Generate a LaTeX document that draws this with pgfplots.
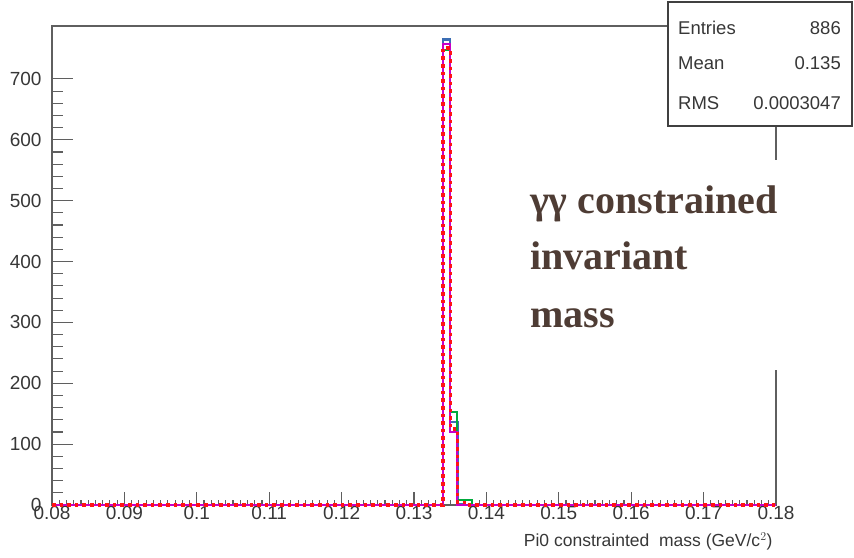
\documentclass[border=0pt]{standalone}
\usepackage{pgfplots}
\pgfplotsset{compat=1.18}
\usepackage{fontspec}
\setmainfont{Liberation Sans}
\newfontfamily\gfont{Liberation Serif}
\definecolor{axgray}{RGB}{95,95,95}
\definecolor{txtgray}{RGB}{55,55,55}
\definecolor{brownt}{RGB}{78,60,52}
\definecolor{hblue}{RGB}{60,110,180}
\definecolor{hgreen}{RGB}{0,170,60}
\definecolor{hmag}{RGB}{200,0,200}
\definecolor{hred}{RGB}{255,20,20}
\begin{document}
\begin{tikzpicture}
\path[use as bounding box] (-52pt,-52pt) rectangle (802pt,505pt);
\begin{axis}[
  scale only axis, width=724pt, height=479pt,
  xmin=0.08, xmax=0.18, ymin=0, ymax=787,
  xtick={0.08,0.09,0.10,0.11,0.12,0.13,0.14,0.15,0.16,0.17,0.18},
  ytick={0,100,200,300,400,500,600,700},
  minor x tick num=9, minor y tick num=4,
  tick align=inside, tick pos=left,
  xtick style={/pgfplots/major tick length=13pt,/pgfplots/minor tick length=5pt},
  ytick style={/pgfplots/major tick length=21pt,/pgfplots/minor tick length=11pt},
  axis line style={axgray, line width=1.5pt},
  every tick/.style={axgray, line width=1.1pt},
  ticklabel style={font=\fontsize{19}{22}\selectfont, text=txtgray},
  /pgf/number format/assume math mode=true,
  x tick label style={/pgf/number format/fixed, /pgf/number format/precision=2, yshift=2pt},
  y tick label style={xshift=-7pt},
  xlabel={Pi0 constrainted\ \ mass (GeV/c$^{2}$)},
  xlabel style={font=\fontsize{17.5}{20}\selectfont, text=txtgray, at={(rel axis cs:1,0)}, anchor=north east, yshift=-24pt},
  clip=false,
]
\addplot[const plot, hblue, line width=2.4pt] coordinates {(0.08,0) (0.134,765) (0.135,136) (0.136,2) (0.137,0) (0.18,0)};
\addplot[const plot, hgreen, line width=2pt] coordinates {(0.08,0) (0.134,748) (0.135,153) (0.136,9) (0.138,0) (0.18,0)};
\addplot[const plot, hmag, line width=2pt] coordinates {(0.08,0) (0.134,758) (0.135,120) (0.136,0) (0.18,0)};
\addplot[const plot, hred, line width=3.4pt, dash pattern=on 3.6pt off 4pt] coordinates {(0.08,0) (0.134,751) (0.135,125) (0.136,4) (0.137,0) (0.18,0)};
\end{axis}
\fill[white] (470pt,135pt) rectangle (795pt,345pt);
\node[anchor=base west, text=brownt, font=\gfont\bfseries\fontsize{40}{44}\selectfont, inner sep=0pt] at (478pt,291pt) {γγ constrained};
\node[anchor=base west, text=brownt, font=\gfont\bfseries\fontsize{40}{44}\selectfont, inner sep=0pt] at (478pt,235pt) {invariant};
\node[anchor=base west, text=brownt, font=\gfont\bfseries\fontsize{40}{44}\selectfont, inner sep=0pt] at (478pt,177pt) {mass};
\draw[fill=white, draw=black!75, line width=1.3pt] (616pt,379pt) rectangle (800pt,503pt);
\begin{scope}[every node/.style={font=\fontsize{18.5}{21}\selectfont, text=txtgray, inner sep=0pt}]
\node[anchor=west] at (626pt,477pt) {Entries};
\node[anchor=east] at (789pt,477pt) {886};
\node[anchor=west] at (626pt,442pt) {Mean};
\node[anchor=east] at (789pt,442pt) {0.135};
\node[anchor=west] at (626pt,402pt) {RMS};
\node[anchor=east] at (789pt,402pt) {0.0003047};
\end{scope}
\end{tikzpicture}
\end{document}
